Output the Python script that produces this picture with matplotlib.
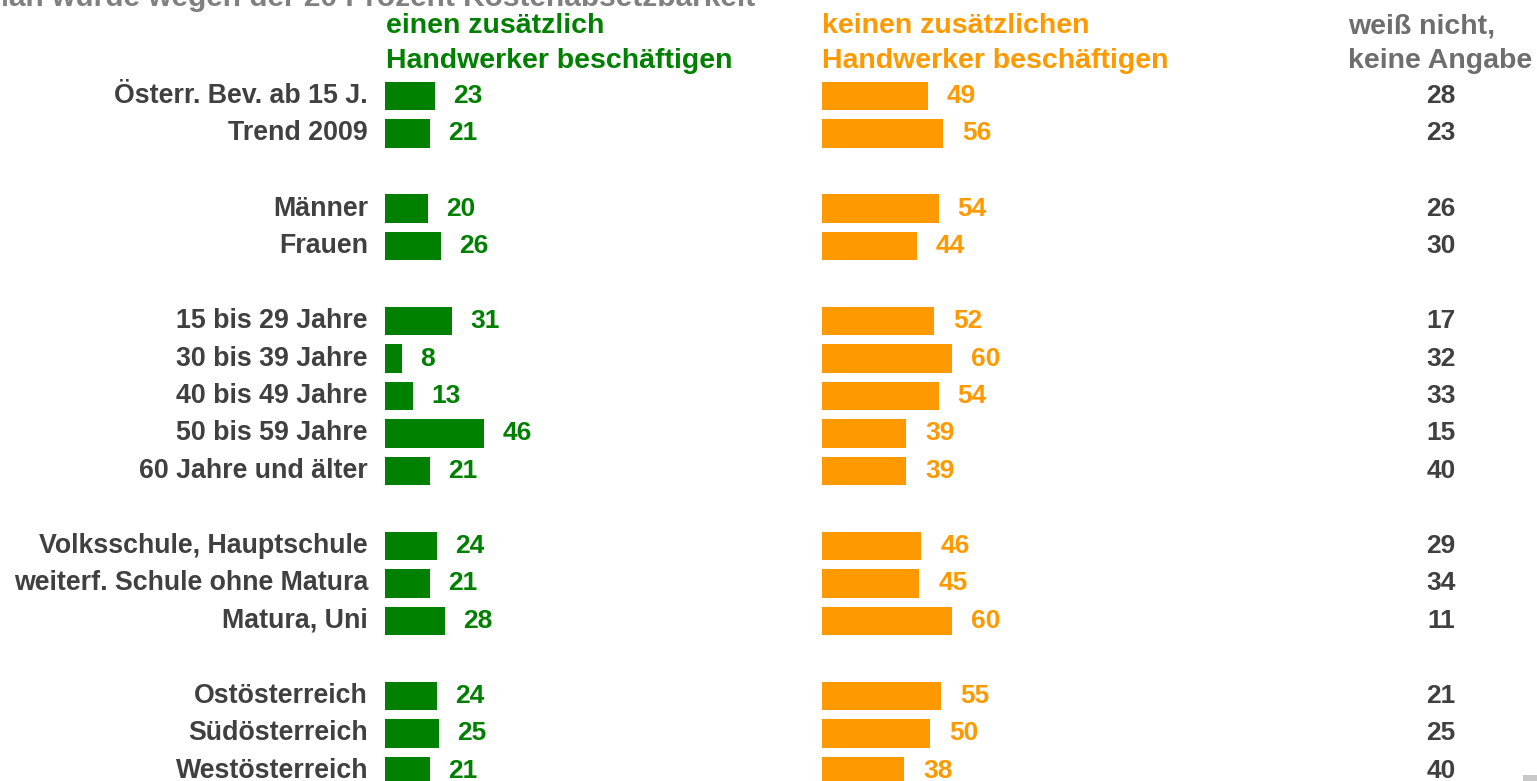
"""Handwerker-Umfrage: Balken je Gruppe
"""
import matplotlib
matplotlib.use('Agg')
import matplotlib.pyplot as plt
from matplotlib.patches import Rectangle

categories = ['Österr. Bev. ab 15 J.', 'Trend 2009',
              'Männer', 'Frauen',
              '15 bis 29 Jahre', '30 bis 39 Jahre', '40 bis 49 Jahre',
              '50 bis 59 Jahre', '60 Jahre und älter',
              'Volksschule, Hauptschule', 'weiterf. Schule ohne Matura',
              'Matura, Uni',
              'Ostösterreich', 'Südösterreich', 'Westösterreich']
rows = [0, 1, 3, 4, 6, 7, 8, 9, 10, 12, 13, 14, 16, 17, 18]
zusaetzlich = [23, 21, 20, 26, 31, 8, 13, 46, 21, 24, 21, 28, 24, 25, 21]
keinen = [49, 56, 54, 44, 52, 60, 54, 39, 39, 46, 45, 60, 55, 50, 38]
weiss_nicht = [28, 23, 26, 30, 17, 32, 33, 15, 40, 29, 34, 11, 21, 25, 40]

GREEN = '#008000'
ORANGE = '#ff9900'
DARK = '#404040'
GREY = '#6e6e6e'
FONT = ['Liberation Sans', 'Arial', 'DejaVu Sans']

W, H = 1537, 781
PX = 2.16          # pixels per percent point
ROW = 37.5         # pixels per row
TOP = 96           # pixel y of first row


def px(x):
    """pixel x -> data x"""
    return x / PX


def py(y):
    """pixel y -> data row"""
    return (y - TOP) / ROW


fig = plt.figure(figsize=(W / 100, H / 100), dpi=100)
ax = fig.add_axes([0, 0, 1, 1])
ax.set_xlim(0, px(W))
ax.set_ylim(py(H), py(0))
ax.axis('off')

green_left = px(385)
orange_left = px(822)
dk_x = px(1441)

ax.barh(rows, zusaetzlich, left=green_left, height=0.75, color=GREEN)
ax.barh(rows, keinen, left=orange_left, height=0.75, color=ORANGE)

for r, cat, g, o, d in zip(rows, categories, zusaetzlich, keinen,
                           weiss_nicht):
    ax.text(px(368), r, cat, ha='right', va='center', color=DARK,
            fontsize=19.3, fontweight='bold', family=FONT)
    ax.text(green_left + g + px(18), r, str(g), ha='left', va='center',
            color=GREEN, fontsize=19, fontweight='bold', family=FONT)
    ax.text(orange_left + o + px(19), r, str(o), ha='left', va='center',
            color=ORANGE, fontsize=19, fontweight='bold', family=FONT)
    ax.text(dk_x, r, str(d), ha='center', va='center', color=DARK,
            fontsize=19, fontweight='bold', family=FONT)

# column headers
headers = [(386, 'einen zusätzlich', 'Handwerker beschäftigen', GREEN),
           (822, 'keinen zusätzlichen', 'Handwerker beschäftigen', ORANGE),
           (1348, 'weiß nicht,', 'keine Angabe', GREY)]
for x, l1, l2, c in headers:
    ax.text(px(x), py(33), l1, ha='left', va='baseline', color=c,
            fontsize=20.5, fontweight='bold', family=FONT)
    ax.text(px(x), py(68), l2, ha='left', va='baseline', color=c,
            fontsize=20.5, fontweight='bold', family=FONT)

# title, cut off at the top edge
ax.text(px(755), py(6), 'Man würde wegen der 20 Prozent Kostenabsetzbarkeit',
        ha='right', va='baseline', color='#808080', fontsize=21.5,
        fontweight='bold', family=FONT)

# small grey corner mark
fig.add_artist(Rectangle((1523 / W, 0), 14 / W, 6 / H,
                         transform=fig.transFigure, color='#c8c8c8', lw=0))

plt.savefig('out.png', dpi=100)
